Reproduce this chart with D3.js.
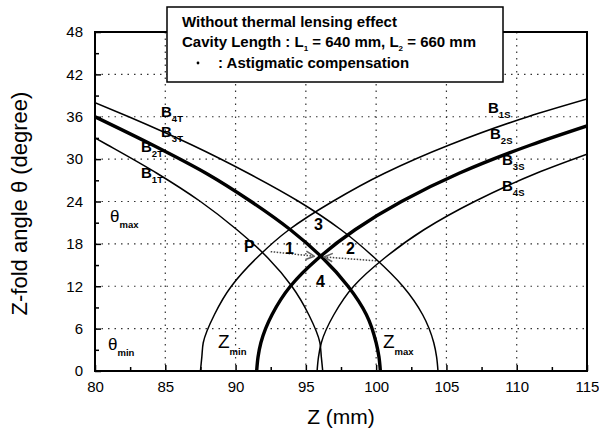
<!DOCTYPE html>
<html>
<head>
<meta charset="utf-8">
<script src="https://cdn.jsdelivr.net/npm/d3@7"></script>
<style>
  body { margin: 0; background: #fff; }
  text { font-family: "Liberation Sans", Arial, sans-serif; }
</style>
</head>
<body>
<div id="chart"></div>
<script>
// points are [Z (mm), theta (deg)], top to bottom
var curveB4T = [[80.0, 38], [82.4, 36], [86.9, 32], [90.9, 28], [94.5, 24], [97.5, 20], [99.9, 16], [101.9, 12], [103.3, 8], [104.1, 4], [104.3, 2], [104.4, 0]];
var curveB23T = [[80.0, 36], [84.1, 32], [87.9, 28], [91.1, 24], [93.9, 20], [96.2, 16], [98.0, 12], [99.3, 8], [100.0, 4], [100.2, 2], [100.3, 0]];
var curveB1T = [[80.0, 33], [80.9, 32], [84.4, 28], [87.5, 24], [90.1, 20], [92.3, 16], [94.0, 12], [95.2, 8], [96.0, 4], [96.1, 2], [96.2, 0]];
var curveB1S = [[115.0, 38.5], [110.8, 36], [105.2, 32], [100.6, 28], [96.9, 24], [93.8, 20], [91.5, 16], [89.7, 12], [88.5, 8], [87.7, 4], [87.6, 2], [87.5, 0]];
var curveB23S = [[115.0, 34.7], [111.0, 32], [105.9, 28], [101.8, 24], [98.5, 20], [95.9, 16], [93.9, 12], [92.6, 8], [91.8, 4], [91.6, 2], [91.5, 0]];
var curveB4S = [[115.0, 30.7], [111.4, 28], [107.0, 24], [103.4, 20], [100.6, 16], [98.4, 12], [97.0, 8], [96.1, 4], [95.9, 2], [95.8, 0]];

// astigmatic compensation arrows: [start, end]
var arrowLeft = [[92.5, 16.9], [95.6, 16.25]];
var arrowRight = [[100.0, 15.6], [96.3, 16.15]];

var xTicks = [80, 85, 90, 95, 100, 105, 110, 115];
var yTicks = [0, 6, 12, 18, 24, 30, 36, 42, 48];
var xMinor = [82.5, 87.5, 92.5, 97.5, 102.5, 107.5, 112.5];
var yMinor = [3, 9, 15, 21, 27, 33, 39, 45];

var margin = { top: 32, right: 12, bottom: 64, left: 95 },
    width = 599 - margin.left - margin.right,
    height = 435 - margin.top - margin.bottom;

var svg = d3.select("#chart").append("svg")
    .attr("width", 599)
    .attr("height", 435);

var g = svg.append("g")
    .attr("transform", "translate(" + margin.left + "," + margin.top + ")");

var x = d3.scaleLinear().domain([80, 115]).range([0, width]);
var y = d3.scaleLinear().domain([0, 48]).range([height, 0]);

// dotted grid
g.selectAll(".vgrid")
    .data(xTicks.slice(1, -1))
    .enter().append("line")
    .attr("x1", function (d) { return x(d) })
    .attr("x2", function (d) { return x(d) })
    .attr("y1", 0).attr("y2", height)
    .attr("stroke", "#333").attr("stroke-width", 1.2)
    .attr("stroke-dasharray", "1.5,5");
g.selectAll(".hgrid")
    .data(yTicks.slice(1, -1))
    .enter().append("line")
    .attr("y1", function (d) { return y(d) })
    .attr("y2", function (d) { return y(d) })
    .attr("x1", 0).attr("x2", width)
    .attr("stroke", "#333").attr("stroke-width", 1.2)
    .attr("stroke-dasharray", "1.5,5");

// clip for curves
svg.append("defs").append("clipPath").attr("id", "plotclip")
    .append("rect").attr("width", width).attr("height", height);

svg.select("defs").append("marker")
    .attr("id", "arrow")
    .attr("viewBox", "0 0 10 10")
    .attr("refX", 9).attr("refY", 5)
    .attr("markerWidth", 7).attr("markerHeight", 7)
    .attr("orient", "auto")
    .append("path")
    .attr("d", "M1,1 L9,5 L1,9")
    .attr("fill", "none").attr("stroke", "#666").attr("stroke-width", 1.5);

var line = d3.line()
    .x(function (d) { return x(d[0]) })
    .y(function (d) { return y(d[1]) })
    .curve(d3.curveMonotoneY);

var curves = [
    { pts: curveB4T, w: 1.5 },
    { pts: curveB23T, w: 3.4 },
    { pts: curveB1T, w: 1.5 },
    { pts: curveB1S, w: 1.5 },
    { pts: curveB23S, w: 3.4 },
    { pts: curveB4S, w: 1.5 }
];

var cg = g.append("g").attr("clip-path", "url(#plotclip)");
cg.selectAll(".curve")
    .data(curves)
    .enter().append("path")
    .attr("d", function (d) { return line(d.pts) })
    .attr("fill", "none")
    .attr("stroke", "#000")
    .attr("stroke-width", function (d) { return d.w });

// dotted arrows
var straight = d3.line()
    .x(function (d) { return x(d[0]) })
    .y(function (d) { return y(d[1]) });
[arrowLeft, arrowRight].forEach(function (a) {
    g.append("path")
        .attr("d", straight(a))
        .attr("fill", "none")
        .attr("stroke", "#444")
        .attr("stroke-width", 1.5)
        .attr("stroke-dasharray", "1.5,1.5")
        .attr("marker-end", "url(#arrow)");
});

// axes, ticks inward
var xAxis = g.append("g")
    .attr("transform", "translate(0," + height + ")")
    .call(d3.axisBottom(x).tickValues(xTicks).tickSize(-6).tickPadding(10));
var xAxisMinor = g.append("g")
    .attr("transform", "translate(0," + height + ")")
    .call(d3.axisBottom(x).tickValues(xMinor).tickSize(-4).tickFormat(""));
var yAxis = g.append("g")
    .call(d3.axisLeft(y).tickValues(yTicks).tickSize(-6).tickPadding(12));
var yAxisMinor = g.append("g")
    .call(d3.axisLeft(y).tickValues(yMinor).tickSize(-4).tickFormat(""));

[xAxis, yAxis, xAxisMinor, yAxisMinor].forEach(function (a) {
    a.select(".domain").remove();
    a.selectAll("line").attr("stroke", "#000").attr("stroke-width", 1.5);
    a.selectAll("text")
        .attr("font-family", "Liberation Sans, Arial, sans-serif")
        .attr("font-size", 15)
        .attr("fill", "#000");
});

// frame
g.append("rect")
    .attr("width", width).attr("height", height)
    .attr("fill", "none").attr("stroke", "#000").attr("stroke-width", 2);

// axis titles
svg.append("text")
    .attr("x", margin.left + width / 2)
    .attr("y", 424)
    .attr("text-anchor", "middle")
    .attr("font-size", 21)
    .text("Z (mm)");
svg.append("text")
    .attr("transform", "translate(27," + (margin.top + height / 2 + 2) + ") rotate(-90)")
    .attr("text-anchor", "middle")
    .attr("font-size", 22)
    .text("Z-fold angle \u03b8 (degree)");

// labels with subscripts
function subLabel(px, py, main, sub, size, subSize, bold) {
    var t = svg.append("text")
        .attr("x", px).attr("y", py)
        .attr("font-size", size)
        .attr("font-weight", bold ? "bold" : "normal");
    t.append("tspan").text(main);
    t.append("tspan").attr("dy", size * 0.36).attr("font-size", subSize)
        .attr("font-weight", "bold").text(sub);
}
subLabel(161, 117, "B", "4T", 15, 9.5, true);
subLabel(161, 137, "B", "3T", 15, 9.5, true);
subLabel(141, 152, "B", "2T", 15, 9.5, true);
subLabel(141, 178, "B", "1T", 15, 9.5, true);
subLabel(488, 113, "B", "1S", 15, 9.5, true);
subLabel(490, 139, "B", "2S", 15, 9.5, true);
subLabel(502, 165, "B", "3S", 15, 9.5, true);
subLabel(502, 191, "B", "4S", 15, 9.5, true);
subLabel(110, 222, "\u03b8", "max", 17, 9.5, false);
subLabel(108, 350, "\u03b8", "min", 17, 9.5, false);
subLabel(218, 348, "Z", "min", 19, 9.5, false);
subLabel(383, 348, "Z", "max", 19, 9.5, false);

var marks = [["3", 314, 230], ["P", 244, 252], ["1", 285, 254], ["2", 346, 254], ["4", 316, 287]];
marks.forEach(function (m) {
    svg.append("text")
        .attr("x", m[1]).attr("y", m[2])
        .attr("font-size", 16)
        .attr("font-weight", "bold")
        .text(m[0]);
});

// legend box
var box = svg.append("g");
box.append("rect")
    .attr("x", 167).attr("y", 7).attr("width", 336).attr("height", 75)
    .attr("fill", "#fff").attr("stroke", "#000").attr("stroke-width", 1.5);
box.append("text")
    .attr("x", 182).attr("y", 27)
    .attr("font-size", 15).attr("font-weight", "bold")
    .text("Without thermal lensing effect");
var l2 = box.append("text")
    .attr("x", 182).attr("y", 47)
    .attr("font-size", 15).attr("font-weight", "bold");
l2.append("tspan").text("Cavity Length : L");
l2.append("tspan").attr("dy", 4).attr("font-size", 8).text("1");
l2.append("tspan").attr("dy", -4).text(" = 640 mm, L");
l2.append("tspan").attr("dy", 4).attr("font-size", 8).text("2");
l2.append("tspan").attr("dy", -4).text(" = 660 mm");
box.append("circle").attr("cx", 198).attr("cy", 63).attr("r", 1.4).attr("fill", "#000");
box.append("text")
    .attr("x", 218).attr("y", 68)
    .attr("font-size", 15).attr("font-weight", "bold")
    .text(": Astigmatic compensation");
</script>
</body>
</html>
